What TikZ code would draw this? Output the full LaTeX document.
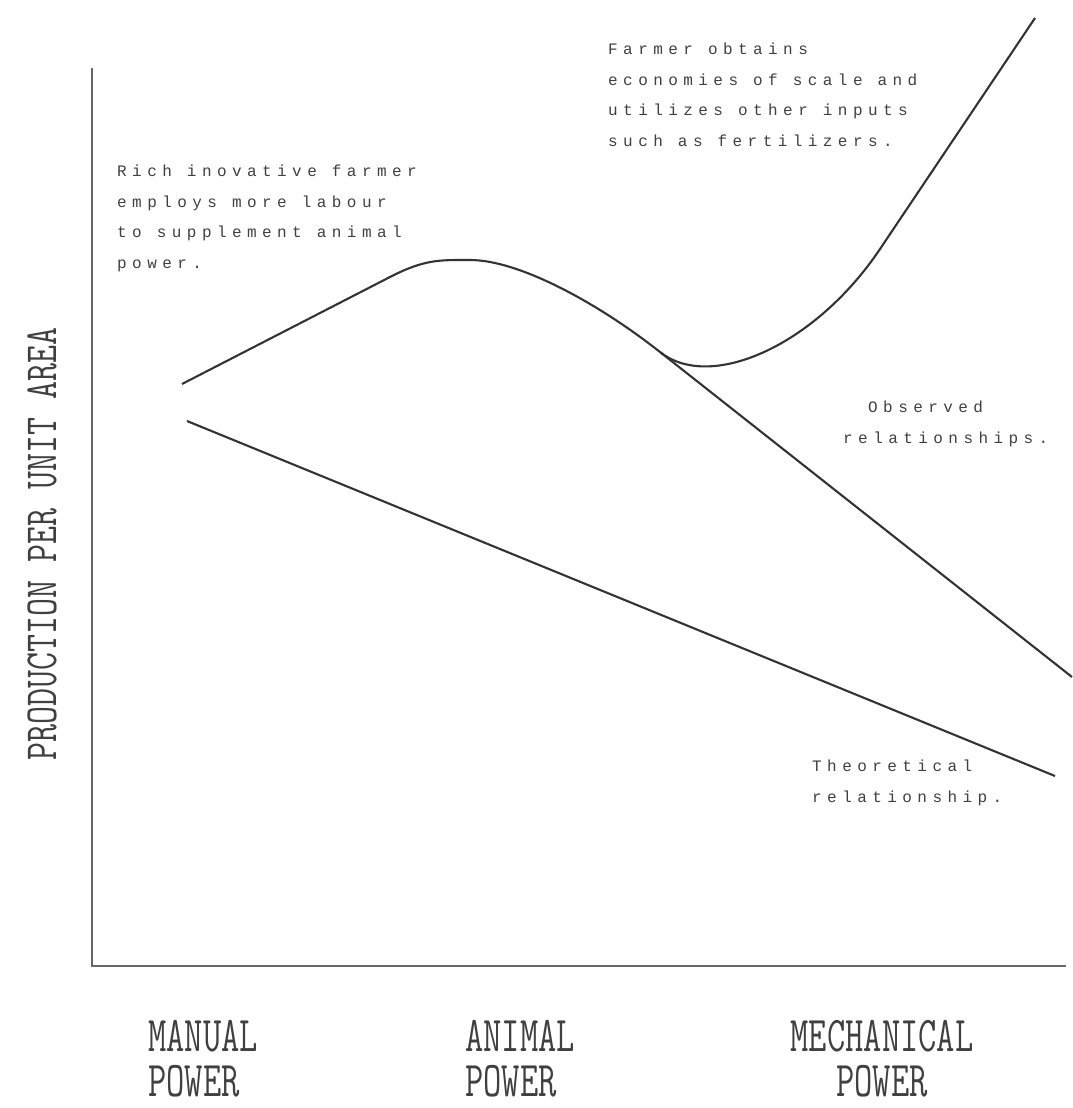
\documentclass[tikz,border=0pt]{standalone}
\usepackage{fontspec}
\usepackage{graphicx}
\newfontfamily\typefont[LetterSpace=34]{Liberation Mono}
\newcommand{\narrow}[1]{\scalebox{0.71}[1]{#1}}

\tikzset{
  note/.style={anchor=north west,inner sep=0pt,align=left,text=black!75,
    font=\typefont\fontsize{16}{30.5}\selectfont},
  power/.style={anchor=south west,inner sep=0pt,align=left,text=black!75,
    font=\ttfamily\fontsize{50}{45}\selectfont},
  curve/.style={line width=2.1pt,black!80},
  axis/.style={line width=2.6pt,black!60}
}

\begin{document}
\begin{tikzpicture}[x=1pt,y=-1pt]
  \useasboundingbox (0,0) rectangle (1072,1108);
  % axes
  \coordinate (O)    at (92,966);
  \coordinate (ytop) at (92,68);
  \coordinate (xend) at (1066,966);
  \draw[axis] (ytop) -- (O) -- (xend);

  % theoretical relationship
  \coordinate (thA) at (187,421);
  \coordinate (thB) at (1055,776);
  \draw[curve] (thA) -- (thB);

  % observed relationships
  \coordinate (obsS)  at (182,384);
  \coordinate (obsR)  at (390,277);
  \coordinate (peak)  at (470,260);
  \coordinate (fork)  at (660,352);
  \coordinate (obsE)  at (1072,677);
  \coordinate (upQ)   at (880,249);
  \coordinate (upT)   at (1035,18);
  \draw[curve] (obsS) -- (obsR)
    .. controls (425,259) and (440,260) .. (peak)
    .. controls (520,260) and (600,304.6) .. (fork) -- (obsE);
  \draw[curve] (fork) .. controls (710,392) and (815,346) .. (upQ) -- (upT);

  % notes
  \node[note] (rich) at (117,165)
    {Rich inovative farmer\\employs more labour\\to supplement animal\\power.};
  \node[note] (scale) at (608,43)
    {Farmer obtains\\economies of scale and\\utilizes other inputs\\such as fertilizers.};
  \node[note] (obsA) at (868,401) {Observed};
  \node[note] (obsB) at (843,432) {relationships.};
  \node[note] (theo) at (812,760) {Theoretical\\relationship.};

  % axis labels
  \node[power] (manual) at (148,1097) {\narrow{MANUAL}\\\narrow{POWER}};
  \node[power] (animal) at (465,1097) {\narrow{ANIMAL}\\\narrow{POWER}};
  \node[power,align=center,anchor=south] (mech) at (882,1097)
    {\narrow{MECHANICAL}\\\narrow{POWER}};
  \node[inner sep=0pt,text=black!75,rotate=90,font=\ttfamily\fontsize{46}{46}\selectfont]
    (ylab) at (42,544) {\scalebox{0.76}[1]{PRODUCTION PER UNIT AREA}};
\end{tikzpicture}
\end{document}
